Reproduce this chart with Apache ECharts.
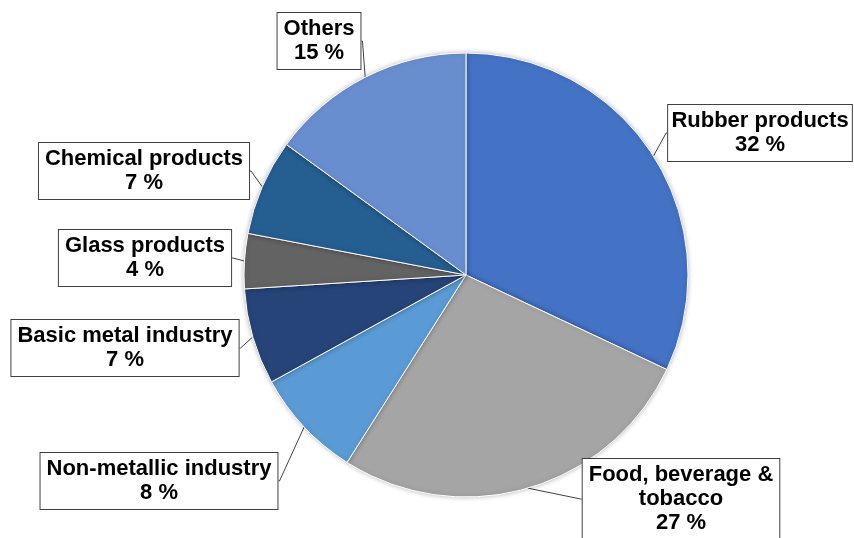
<!DOCTYPE html>
<html>
<head>
<meta charset="utf-8">
<script src="https://cdn.jsdelivr.net/npm/echarts@6/dist/echarts.min.js"></script>
<style>
  html, body { margin: 0; padding: 0; background: #fff; }
  #chart { width: 854px; height: 538px; }
</style>
</head>
<body>
<div id="chart"></div>
<script>
// categories and shares (%), clockwise from 12 o'clock
const sectors = ['Rubber products', 'Food, beverage &\ntobacco', 'Non-metallic industry',
  'Basic metal industry', 'Glass products', 'Chemical products', 'Others'];
const shares = [32, 27, 8, 7, 4, 7, 15];
const colors = ['#4472C4', '#A5A5A5', '#5B9BD5', '#264478', '#636363', '#255E91', '#698ED0'];

// where each callout box sits (centre of the box)
const boxCentres = [
  [760, 133], [681, 499], [159, 481], [125, 348], [145, 258], [144, 171], [319, 41]
];

const chart = echarts.init(document.getElementById('chart'));

chart.setOption({
  animation: false,
  series: [{
    type: 'pie',
    center: [466, 275],
    radius: 222,
    startAngle: 90,
    clockwise: true,
    itemStyle: {
      borderColor: '#fff',
      borderWidth: 1,
      shadowBlur: 5,
      shadowColor: 'rgba(0,0,0,0.25)'
    },
    emphasis: { disabled: true },
    label: {
      show: true,
      formatter: '{b}\n{c} %',
      fontFamily: 'Liberation Sans, Arial, sans-serif',
      fontWeight: 'bold',
      fontSize: 22,
      lineHeight: 24,
      color: '#000',
      align: 'center',
      overflow: 'none',
      backgroundColor: '#fff',
      borderColor: '#404040',
      borderWidth: 1,
      padding: [4, 6]
    },
    labelLine: {
      show: true,
      length: 1,
      length2: 1,
      lineStyle: { color: '#404040', width: 1 }
    },
    labelLayout: function (params) {
      const c = boxCentres[params.dataIndex];
      return {
        x: c[0],
        y: c[1],
        align: 'center',
        verticalAlign: 'middle'
      };
    },
    data: sectors.map((name, i) => ({
      name: name,
      value: shares[i],
      itemStyle: { color: colors[i] }
    }))
  }]
});
</script>
</body>
</html>
